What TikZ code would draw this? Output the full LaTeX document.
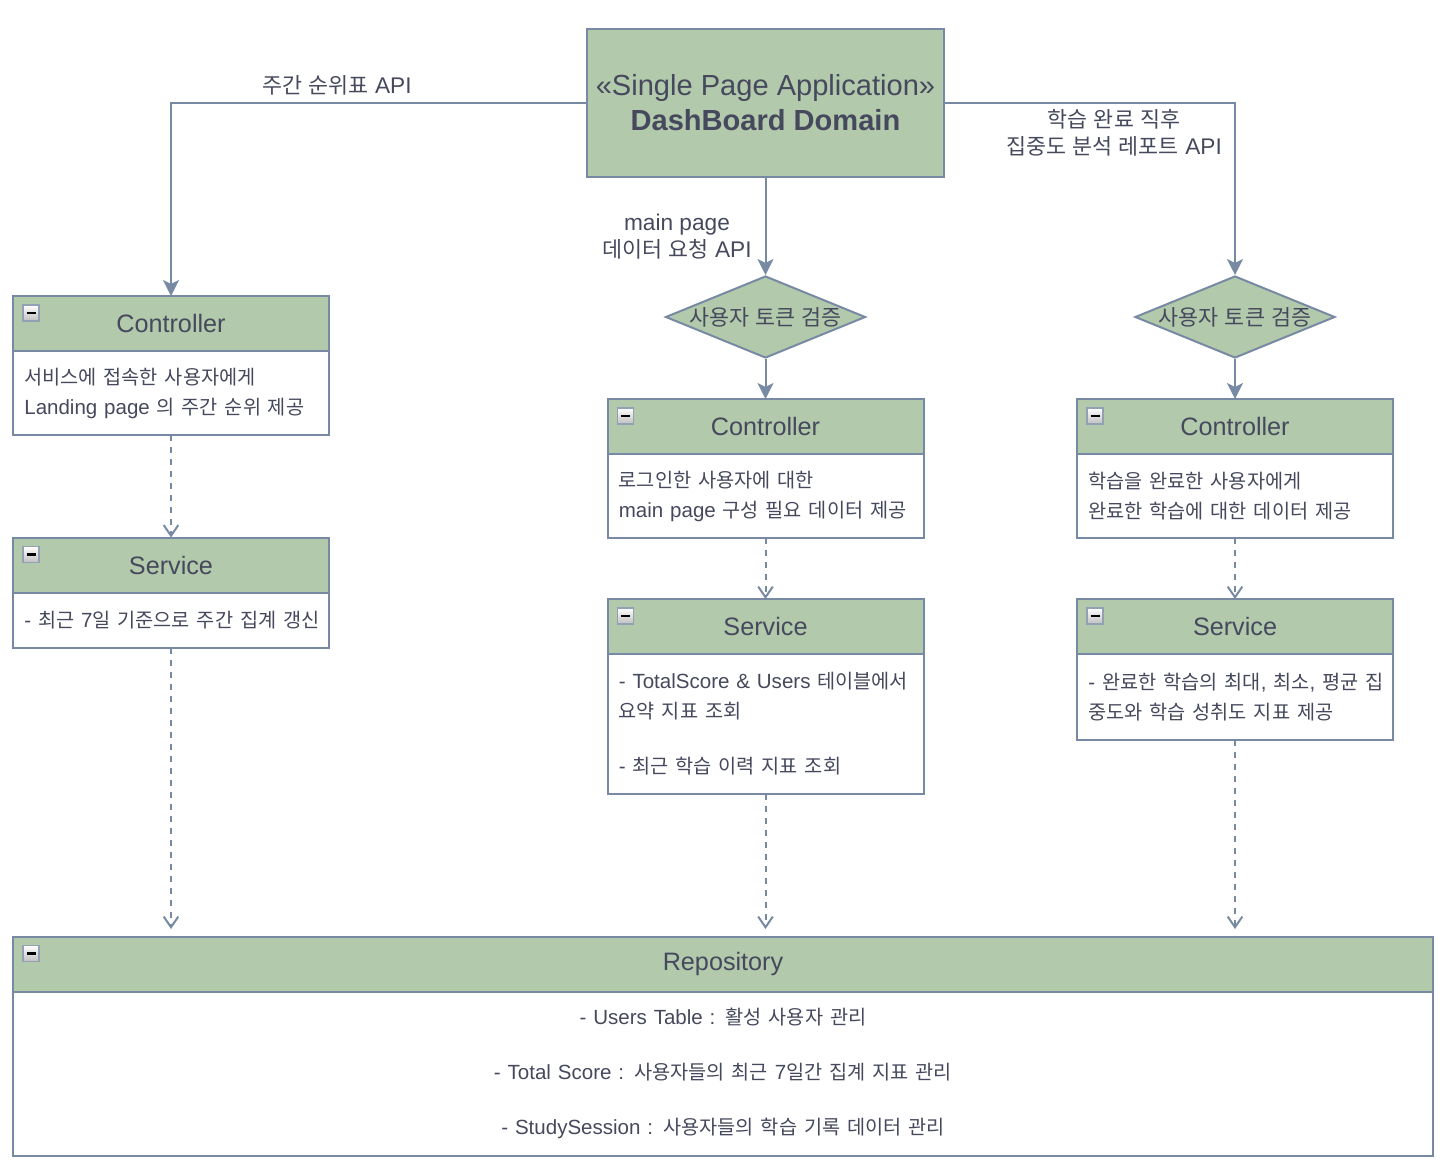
\documentclass[tikz,border=0pt]{standalone}
\usepackage{fontspec}
\setmainfont{Liberation Sans}
\newfontfamily\krfont[Scale=0.96]{Noto Sans CJK KR}
\newfontfamily\latinfont{Liberation Sans}
% hangul runs switch to the Korean font
\newXeTeXintercharclass\hangulclass
\newcount\hgc
\hgc="AC00
\loop
  \XeTeXcharclass\hgc=\hangulclass
  \advance\hgc by 1
\ifnum\hgc<"D7A4 \repeat
\XeTeXinterchartoks 0 \hangulclass = {\krfont}
\XeTeXinterchartoks 4095 \hangulclass = {\krfont}
\XeTeXinterchartoks \hangulclass 0 = {\latinfont}
\XeTeXinterchartoks \hangulclass 4095 = {\latinfont}
\XeTeXinterchartokenstate=1
\usetikzlibrary{arrows.meta,shapes.geometric}
\definecolor{sage}{HTML}{B2C9AB}
\definecolor{slate}{HTML}{788AA3}
\definecolor{ink}{HTML}{46495D}
\tikzset{every picture/.style={line width=1.5pt}}

\begin{document}
\begin{tikzpicture}[x=0.75pt,y=0.75pt,yscale=-1,xscale=1,
  hdr/.style={draw=slate, fill=sage, text=ink, minimum width=237pt, minimum height=41.25pt, inner sep=0pt, outer sep=0pt, font=\fontsize{18.9}{22}\selectfont},
  body/.style={draw=slate, fill=white, text=ink, minimum width=237pt, text width=220pt, inner xsep=8.5pt, inner ysep=0pt, outer sep=0pt, align=left, anchor=north, font=\fontsize{15.4}{22.5}\selectfont},
  check/.style={shape=diamond, aspect=2.44, draw=slate, fill=sage, text=ink, minimum width=150pt, minimum height=61.5pt, inner sep=-4pt, font=\fontsize{17}{20}\selectfont},
  lbl/.style={text=ink, align=center, font=\fontsize{17}{20.5}\selectfont},
  flow/.style={draw=slate, -{Stealth[length=12pt,width=12pt,inset=3pt]}},
  dep/.style={draw=slate, dash pattern=on 4.5pt off 4.5pt, -{Straight Barb[length=8pt,width=11pt]}},
  icon/.style={draw=slate!80, line width=1.2pt, top color=white, bottom color=black!25}]
%set diagram size 1452 x 1174
\path[use as bounding box] (0,0) rectangle (1452,1174);

%Shape: Rectangle [id:spa]
\node[draw=slate, fill=sage, text=ink, minimum width=267.75pt, minimum height=111pt, align=center, font=\fontsize{21.8}{26.25}\selectfont] (spa) at (765.5,103) {«Single Page Application»\\\textbf{DashBoard Domain}};

%Shape: Diamond [id:diaM]
\node[check] (diaM) at (765.5,317) {사용자 토큰 검증};
%Shape: Diamond [id:diaR]
\node[check] (diaR) at (1235,317) {사용자 토큰 검증};

%Shape: Class [id:ctlL]
\node[hdr] (ctlL) at (171,323.5) {Controller};
\node[body, minimum height=63pt] (ctlLb) at (ctlL.south) {서비스에 접속한 사용자에게\\Landing page 의 주간 순위 제공};
%Shape: Class [id:svcL]
\node[hdr] (svcL) at (171,565) {Service};
\node[body, minimum height=41.25pt] (svcLb) at (svcL.south) {\mbox{- 최근 7일 기준으로 주간 집계 갱신}};

%Shape: Class [id:ctlM]
\node[hdr] (ctlM) at (765.5,426.5) {Controller};
\node[body, minimum height=63pt] (ctlMb) at (ctlM.south) {로그인한 사용자에 대한\\main page 구성 필요 데이터 제공};
%Shape: Class [id:svcM]
\node[hdr] (svcM) at (765.5,626.5) {Service};
\node[body, minimum height=105pt] (svcMb) at (svcM.south) {\mbox{- TotalScore \& Users 테이블에서}\\요약 지표 조회\\[18.75pt]- 최근 학습 이력 지표 조회};

%Shape: Class [id:ctlR]
\node[hdr] (ctlR) at (1235,426.5) {Controller};
\node[body, minimum height=63pt] (ctlRb) at (ctlR.south) {학습을 완료한 사용자에게\\완료한 학습에 대한 데이터 제공};
%Shape: Class [id:svcR]
\node[hdr] (svcR) at (1235,626.5) {Service};
\node[body, minimum height=64.5pt] (svcRb) at (svcR.south) {\mbox{- 완료한 학습의 최대, 최소, 평균 집}\\중도와 학습 성취도 지표 제공};

%Shape: Class [id:repo]
\node[hdr, minimum width=1065pt] (repo) at (723,964) {Repository};
\node[body, minimum width=1065pt, text width=1048pt, align=center, minimum height=123pt] (repob) at (repo.south) {- Users Table : 활성 사용자 관리\\[18.75pt]- Total Score : 사용자들의 최근 7일간 집계 지표 관리\\[18.75pt]- StudySession : 사용자들의 학습 기록 데이터 관리};

%collapse icons
\foreach \n in {ctlL,svcL,ctlM,svcM,ctlR,svcR,repo} {
  \draw[icon] ([shift={(10,9)}]\n.north west) rectangle ++(16,16);
  \draw[line width=2.2pt] ([shift={(13.5,17)}]\n.north west) -- ++(9,0);
}

%Straight Lines
\draw[flow] (spa.west) -| (ctlL.north);
\draw[flow] (spa.east) -| (diaR.north);
\draw[flow] (spa.south) -- (diaM.north);
\draw[flow] (diaM.south) -- (ctlM.north);
\draw[flow] (diaR.south) -- (ctlR.north);

%Dashed Lines
\coordinate (inL) at (171,929);
\coordinate (inM) at (765.5,929);
\coordinate (inR) at (1235,929);
\draw[dep] (ctlLb.south) -- (svcL.north);
\draw[dep] (ctlMb.south) -- (svcM.north);
\draw[dep] (ctlRb.south) -- (svcR.north);
\draw[dep] (svcLb.south) -- (inL);
\draw[dep] (svcMb.south) -- (inM);
\draw[dep] (svcRb.south) -- (inR);

% Text Node
\node[lbl] (apiL) at (337,85) {주간 순위표 API};
% Text Node
\node[lbl] (apiM) at (677,236.5) {main page\\데이터 요청 API};
% Text Node
\node[lbl] (apiR) at (1114,133) {학습 완료 직후\\집중도 분석 레포트 API};

\end{tikzpicture}
\end{document}
